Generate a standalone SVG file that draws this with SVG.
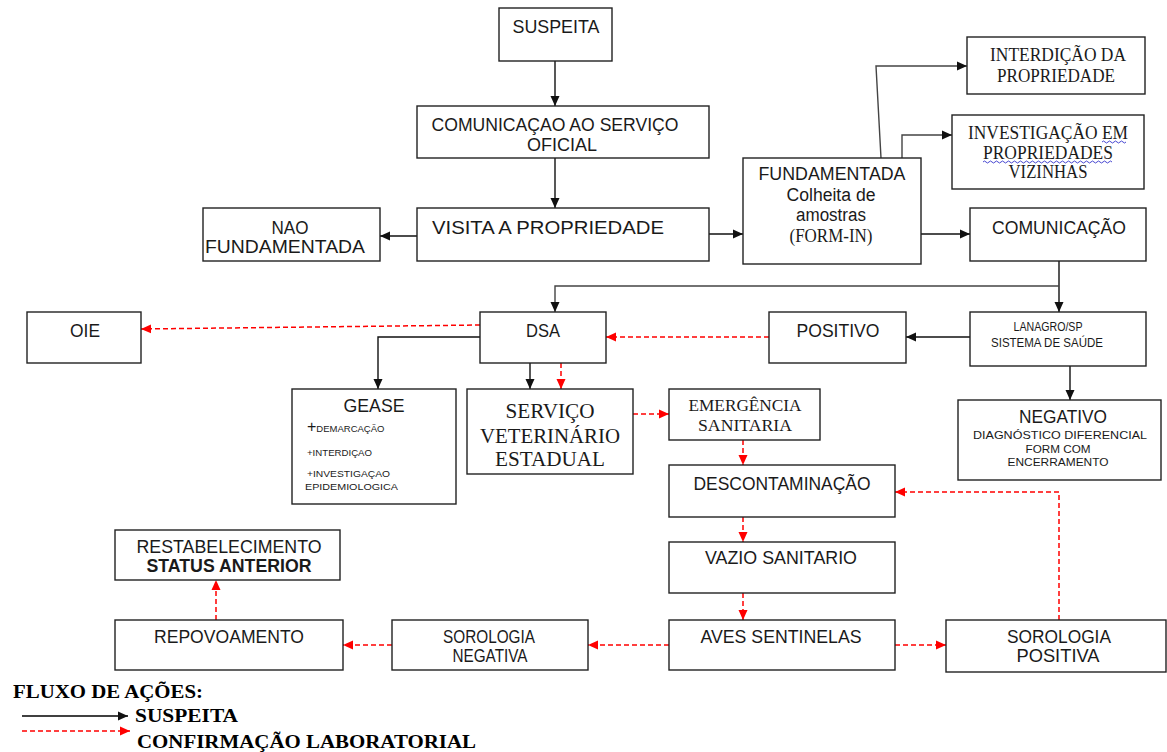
<svg xmlns="http://www.w3.org/2000/svg" width="1167" height="752" viewBox="0 0 1167 752">
<defs>
<marker id="ab" markerUnits="userSpaceOnUse" markerWidth="11" markerHeight="10" refX="10" refY="5" orient="auto"><path d="M0,0.5 L10,5 L0,9.5 z" fill="#111"/></marker>
<marker id="ar" markerUnits="userSpaceOnUse" markerWidth="11" markerHeight="10" refX="10" refY="5" orient="auto"><path d="M0,0.5 L10,5 L0,9.5 z" fill="#f00"/></marker>
<style>
rect{fill:#fff;stroke:#222;stroke-width:1.4}
text{font-family:"Liberation Sans",Arial,sans-serif;fill:#1a1a1a;text-anchor:middle}
.s{font-family:"Liberation Serif","Times New Roman",serif}
.b{fill:none;stroke:#111;stroke-width:1.4;marker-end:url(#ab)}
.r{fill:none;stroke:#f00;stroke-width:1.5;stroke-dasharray:5,3;marker-end:url(#ar)}
.f17{font-size:18px}
.f11{font-size:11px}
.lg{font-family:"Liberation Serif","Times New Roman",serif;font-weight:bold;font-size:19px;text-anchor:start;fill:#000}
</style>
</defs>

<g id="connectors">
<line class="b" x1="555" y1="61" x2="555" y2="106"/>
<line class="b" x1="555" y1="158" x2="555" y2="208"/>
<line class="b" x1="417" y1="236" x2="380" y2="236"/>
<line class="b" x1="709" y1="234" x2="743" y2="234"/>
<line class="b" x1="921" y1="234" x2="970" y2="234"/>
<polyline class="b" style="stroke:#444" points="881,158 876,66 967,66"/>
<polyline class="b" style="stroke:#444" points="902,158 902,135 952,135"/>
<line class="b" x1="1059" y1="261" x2="1059" y2="312"/>
<polyline class="b" style="stroke:#444" points="1059,286 555,286 555,312"/>
<line class="b" x1="970" y1="337" x2="906" y2="337"/>
<line class="r" x1="769" y1="337" x2="606" y2="337"/>
<line class="r" x1="480" y1="325" x2="141" y2="329"/>
<polyline class="b" points="480,337 378,337 378,389"/>
<line class="b" x1="530" y1="363" x2="530" y2="389"/>
<line class="r" x1="561" y1="363" x2="561" y2="389"/>
<line class="r" x1="633" y1="414" x2="669" y2="414"/>
<line class="b" x1="1070" y1="366" x2="1070" y2="400"/>
<line class="r" x1="743" y1="440" x2="743" y2="465"/>
<line class="r" x1="743" y1="517" x2="743" y2="542"/>
<line class="r" x1="743" y1="593" x2="743" y2="620"/>
<polyline class="r" points="1059,620 1059,492 895,492"/>
<line class="r" x1="669" y1="645" x2="588" y2="645"/>
<line class="r" x1="895" y1="645" x2="946" y2="645"/>
<line class="r" x1="392" y1="645" x2="343" y2="645"/>
<line class="r" x1="216" y1="620" x2="216" y2="580"/>
</g>

<g id="suspeita"><rect x="499" y="8" width="113" height="53"/><text class="f17" x="556" y="33" textLength="87" lengthAdjust="spacingAndGlyphs">SUSPEITA</text></g>
<g id="comunicacao-servico"><rect x="417" y="106" width="292" height="52"/><text class="f17" x="555" y="131" textLength="247" lengthAdjust="spacingAndGlyphs">COMUNICAÇAO AO SERVIÇO</text><text class="f17" x="562" y="151" textLength="70" lengthAdjust="spacingAndGlyphs">OFICIAL</text></g>
<g id="visita"><rect x="417" y="208" width="292" height="53"/><text class="f17" x="548" y="234" textLength="232" lengthAdjust="spacingAndGlyphs">VISITA A PROPRIEDADE</text></g>
<g id="nao-fundamentada"><rect x="203" y="208" width="177" height="53"/><text class="f17" x="290" y="234" textLength="37" lengthAdjust="spacingAndGlyphs">NAO</text><text class="f17" x="285" y="253" textLength="160" lengthAdjust="spacingAndGlyphs">FUNDAMENTADA</text></g>
<g id="fundamentada"><rect x="743" y="158" width="178" height="106"/><text class="f17" x="832" y="180" textLength="147" lengthAdjust="spacingAndGlyphs">FUNDAMENTADA</text><text class="f17" x="831" y="201" textLength="89" lengthAdjust="spacingAndGlyphs">Colheita de</text><text class="f17" x="831" y="221" textLength="70" lengthAdjust="spacingAndGlyphs">amostras</text><text class="s f17" x="831" y="242" textLength="83" lengthAdjust="spacingAndGlyphs">(FORM-IN)</text></g>
<g id="interdicao"><rect x="967" y="37" width="178" height="57"/><text class="s f17" x="1058" y="61" textLength="136" lengthAdjust="spacingAndGlyphs">INTERDIÇÃO DA</text><text class="s f17" x="1056" y="82" textLength="118" lengthAdjust="spacingAndGlyphs">PROPRIEDADE</text></g>
<g id="investigacao"><rect x="952" y="115" width="192" height="74"/><text class="s f17" x="1048" y="139" textLength="160" lengthAdjust="spacingAndGlyphs">INVESTIGAÇÃO EM</text><text class="s f17" x="1048" y="159" textLength="130" lengthAdjust="spacingAndGlyphs">PROPRIEDADES</text><text class="s f17" x="1048" y="178" textLength="79" lengthAdjust="spacingAndGlyphs">VIZINHAS</text><path d="M1102,142 q1.5,-2 3,0 t3,0 t3,0 t3,0 t3,0 t3,0 t3,0 t3,0 M983,162 q1.5,-2 3,0 t3,0 t3,0 t3,0 t3,0 t3,0 t3,0 t3,0 t3,0 t3,0 t3,0 t3,0 t3,0 t3,0 t3,0 t3,0 t3,0 t3,0 t3,0 t3,0 t3,0 t3,0 t3,0 t3,0 t3,0 t3,0 t3,0 t3,0 t3,0 t3,0 t3,0 t3,0 t3,0 t3,0 t3,0 t3,0 t3,0 t3,0 t3,0 t3,0 t3,0 t3,0 t3,0" fill="none" stroke="#33c" stroke-width="0.9"/></g>
<g id="comunicacao"><rect x="970" y="208" width="176" height="53"/><text class="f17" x="1059" y="234" textLength="134" lengthAdjust="spacingAndGlyphs">COMUNICAÇÃO</text></g>
<g id="oie"><rect x="27" y="312" width="114" height="51"/><text class="f17" x="85" y="337" textLength="30" lengthAdjust="spacingAndGlyphs">OIE</text></g>
<g id="dsa"><rect x="480" y="312" width="126" height="51"/><text class="f17" x="543" y="337" textLength="34" lengthAdjust="spacingAndGlyphs">DSA</text></g>
<g id="positivo"><rect x="769" y="312" width="137" height="51"/><text class="f17" x="838" y="337" textLength="83" lengthAdjust="spacingAndGlyphs">POSITIVO</text></g>
<g id="lanagro"><rect x="970" y="312" width="176" height="54"/><text x="1048" y="331" font-size="12" textLength="69" lengthAdjust="spacingAndGlyphs">LANAGRO/SP</text><text x="1047" y="347" font-size="12" textLength="112" lengthAdjust="spacingAndGlyphs">SISTEMA DE SAÚDE</text></g>
<g id="gease"><rect x="292" y="389" width="164" height="115"/><text x="374" y="412" font-size="19" textLength="61" lengthAdjust="spacingAndGlyphs">GEASE</text>
<text x="307" y="432" style="text-anchor:start"><tspan font-size="16">+</tspan><tspan font-size="9.5">DEMARCAÇÃO</tspan></text>
<text x="307" y="456" font-size="9.5" style="text-anchor:start" textLength="65" lengthAdjust="spacingAndGlyphs">+INTERDIÇAO</text>
<text x="307" y="477" font-size="9.5" style="text-anchor:start" textLength="83" lengthAdjust="spacingAndGlyphs">+INVESTIGAÇAO</text>
<text x="305" y="490" font-size="9.5" style="text-anchor:start" textLength="93" lengthAdjust="spacingAndGlyphs">EPIDEMIOLOGICA</text></g>
<g id="servico-veterinario"><rect x="467" y="389" width="166" height="85"/><text class="s" x="550" y="418" font-size="21" textLength="89" lengthAdjust="spacingAndGlyphs">SERVIÇO</text><text class="s" x="550" y="443" font-size="21" textLength="140" lengthAdjust="spacingAndGlyphs">VETERINÁRIO</text><text class="s" x="550" y="466" font-size="21" textLength="110" lengthAdjust="spacingAndGlyphs">ESTADUAL</text></g>
<g id="emergencia"><rect x="669" y="389" width="151" height="51"/><text class="s" x="745" y="411" font-size="16" textLength="113" lengthAdjust="spacingAndGlyphs">EMERGÊNCIA</text><text class="s" x="745" y="431" font-size="16" textLength="94" lengthAdjust="spacingAndGlyphs">SANITARIA</text></g>
<g id="negativo"><rect x="958" y="400" width="203" height="80"/><text x="1063" y="423" font-size="19" textLength="88" lengthAdjust="spacingAndGlyphs">NEGATIVO</text><text class="f11" x="1060" y="439" textLength="174" lengthAdjust="spacingAndGlyphs">DIAGNÓSTICO DIFERENCIAL</text><text class="f11" x="1058" y="453" textLength="65" lengthAdjust="spacingAndGlyphs">FORM COM</text><text class="f11" x="1058" y="466" textLength="101" lengthAdjust="spacingAndGlyphs">ENCERRAMENTO</text></g>
<g id="descontaminacao"><rect x="669" y="465" width="226" height="52"/><text class="f17" x="782" y="490" textLength="177" lengthAdjust="spacingAndGlyphs">DESCONTAMINAÇÃO</text></g>
<g id="vazio"><rect x="669" y="542" width="226" height="51"/><text class="f17" x="781" y="564" textLength="152" lengthAdjust="spacingAndGlyphs">VAZIO SANITARIO</text></g>
<g id="restabelecimento"><rect x="115" y="530" width="225" height="50"/><text class="f17" x="229" y="553" textLength="185" lengthAdjust="spacingAndGlyphs">RESTABELECIMENTO</text><text class="f17" x="229" y="572" font-weight="bold" textLength="165" lengthAdjust="spacingAndGlyphs">STATUS ANTERIOR</text></g>
<g id="repovoamento"><rect x="115" y="620" width="228" height="50"/><text class="f17" x="229" y="643" textLength="150" lengthAdjust="spacingAndGlyphs">REPOVOAMENTO</text></g>
<g id="sorologia-negativa"><rect x="392" y="620" width="196" height="50"/><text class="f17" x="489" y="643" textLength="92" lengthAdjust="spacingAndGlyphs">SOROLOGIA</text><text class="f17" x="490" y="662" textLength="75" lengthAdjust="spacingAndGlyphs">NEGATIVA</text></g>
<g id="aves-sentinelas"><rect x="669" y="620" width="226" height="50"/><text class="f17" x="781" y="643" textLength="161" lengthAdjust="spacingAndGlyphs">AVES SENTINELAS</text></g>
<g id="sorologia-positiva"><rect x="946" y="620" width="220" height="52"/><text class="f17" x="1059" y="643" textLength="104" lengthAdjust="spacingAndGlyphs">SOROLOGIA</text><text class="f17" x="1058" y="662" textLength="83" lengthAdjust="spacingAndGlyphs">POSITIVA</text></g>

<g id="legend">
<text class="lg" x="13" y="698" textLength="190" lengthAdjust="spacingAndGlyphs">FLUXO DE AÇÕES:</text>
<line class="b" x1="22" y1="716" x2="128" y2="716" style="stroke:#000"/>
<text class="lg" x="135" y="722" textLength="103" lengthAdjust="spacingAndGlyphs">SUSPEITA</text>
<line class="r" x1="22" y1="731" x2="130" y2="731"/>
<text class="lg" x="137" y="748" textLength="339" lengthAdjust="spacingAndGlyphs">CONFIRMAÇÃO LABORATORIAL</text>
</g>
</svg>
